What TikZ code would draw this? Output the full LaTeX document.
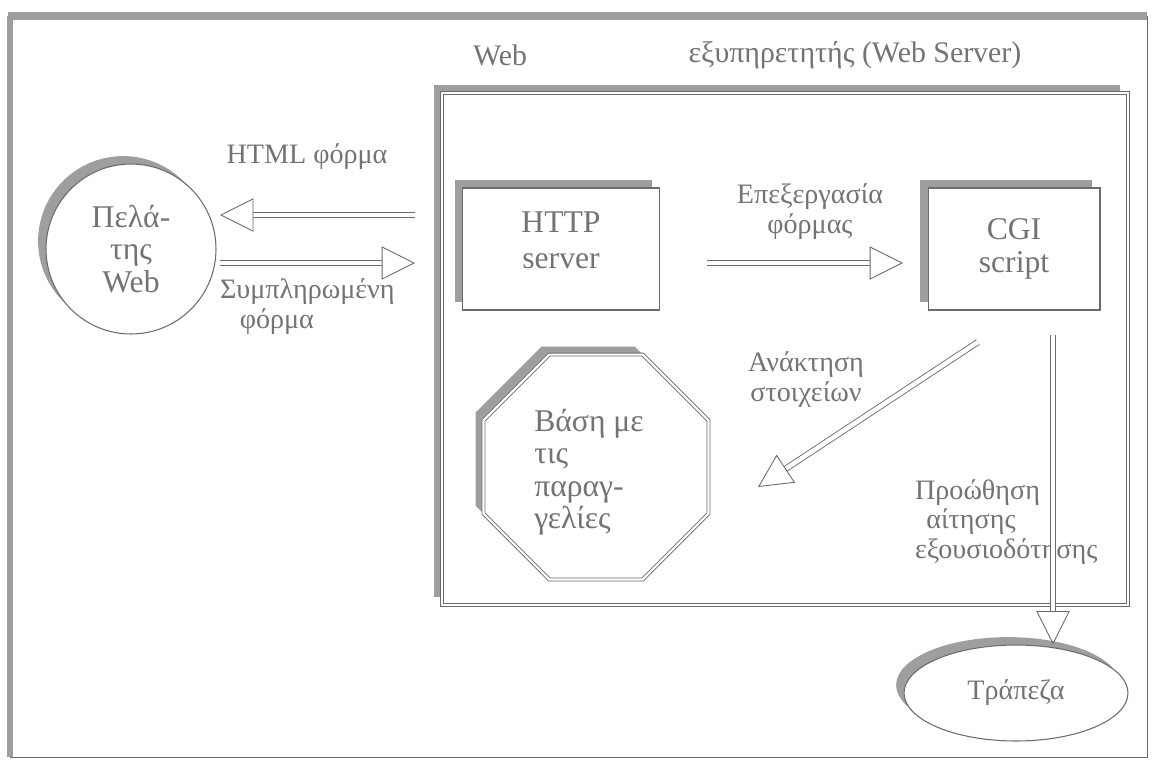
\documentclass[tikz,border=0pt]{standalone}
\usepackage{fontspec}
\setmainfont{Liberation Serif}
\usetikzlibrary{arrows.meta,shapes.geometric,shadows}
\definecolor{ln}{gray}{0.42}
\definecolor{tx}{gray}{0.45}
\definecolor{sh}{gray}{0.62}
\begin{document}
\begin{tikzpicture}[x=0.02cm,y=-0.02cm,
  txt/.style={text=tx, font=\fontsize{16}{17}\selectfont, align=center, inner sep=1pt},
  big/.style={font=\fontsize{18}{18.5}\selectfont},
  shad/.style={drop shadow={shadow xshift=-4.5pt, shadow yshift=4.5pt, fill=sh, opacity=1}},
  box/.style={draw=ln, line width=0.6pt, fill=white, shad},
  dbl/.style={draw=ln, line width=0.5pt, double=white, double distance=2.6pt,
     -{Triangle[open, length=19pt, width=19pt]}},
]
\useasboundingbox (0,0) rectangle (1152,762);
% outer frame
\draw[ln, line width=0.5pt] (10,16) rectangle (1147,757);
\draw[sh, line width=4pt] (8,16) -- (1147,16);
\draw[sh, line width=3pt] (10,16) -- (10,757);

% title
\node[txt, font=\fontsize{17}{18}\selectfont] (tweb) at (500,55) {Web};
\node[txt, font=\fontsize{17}{18}\selectfont] (tsrv) at (855,55) {εξυπηρετητής (Web Server)};

% server box
\node[box, double=white, double distance=1.6pt, line width=0.5pt,
      minimum width=13.72cm, minimum height=10.24cm, inner sep=0pt] (srv) at (785,349) {};

% client
\node[box, circle, minimum size=3.4cm, txt, big] (cli) at (131,249) {Πελά-\\της\\Web};

% HTTP and CGI boxes
\node[box, minimum width=3.94cm, minimum height=2.44cm] (http) at (561,249) {};
\node[txt, font=\fontsize{18}{20.5}\selectfont] (httpt) at (561,240) {HTTP\\server};
\node[box, txt, big, minimum width=3.44cm, minimum height=2.44cm] (cgi) at (1014,249) {CGI\\script};

% octagon database
\node[box, regular polygon, regular polygon sides=8, minimum size=4.87cm,
      double=white, double distance=1.2pt, line width=0.5pt] (db) at (596,467) {};
\node[txt, align=left, font=\fontsize{18}{18.5}\selectfont] (dbt) at (589,472) {Βάση με\\τις\\παραγ-\\γελίες};

% bank
\node[box, ellipse, minimum width=4.48cm, minimum height=1.92cm, txt] (bank) at (1016,693) {Τράπεζα};

% labels
\node[txt] (lhtml) at (307,157) {HTML φόρμα};
\node[txt, align=left, anchor=west] (lfill) at (218,307) {Συμπληρωμένη\\\hspace{0.7em}φόρμα};
\node[txt] (lproc) at (810,212) {Επεξεργασία\\φόρμας};
\node[txt] (lret) at (806,380) {Ανάκτηση\\στοιχείων};
\node[txt, align=left, anchor=west] (lfwd) at (913,522) {Προώθηση\\\hspace{0.4em}αίτησης\\εξουσιοδότησης};

% free ends
\coordinate (h1s) at (415,215);
\coordinate (h1e) at (220,215);
\coordinate (h2s) at (220,263);
\coordinate (h2e) at (415,263);
\coordinate (p1) at (707,263);
\coordinate (p2) at (903,263);
\coordinate (d1) at (978,342);
\coordinate (d2) at (758,487);
\coordinate (b1) at (1053,335);

% arrows
\draw[dbl] (h1s) -- (h1e);
\draw[dbl] (h2s) -- (h2e);
\draw[dbl] (p1) -- (p2);
\draw[dbl] (d1) -- (d2);
\draw[dbl] (b1) -- (b1 |- bank.north);
\end{tikzpicture}
\end{document}
